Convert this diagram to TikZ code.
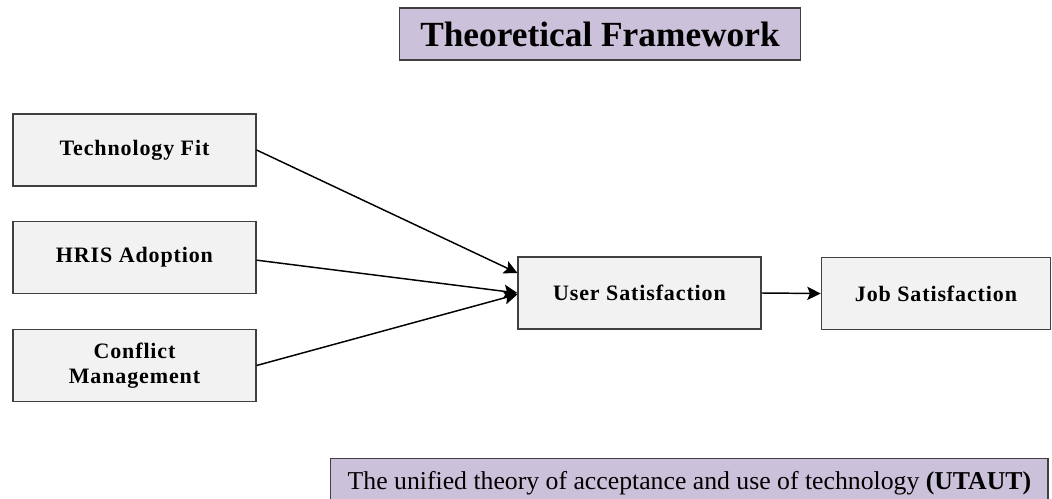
\documentclass[tikz,border=0pt]{standalone}
\usepackage{fontspec}
\setmainfont{Liberation Serif}
\usepackage{xcolor}
\usepackage{tikz}
\usetikzlibrary{arrows.meta}
\definecolor{lavender}{RGB}{204,193,218}
\definecolor{boxgray}{RGB}{242,242,242}
\definecolor{edgegray}{RGB}{64,64,64}

\tikzset{
    varbox/.style={draw=edgegray, line width=1.1pt, fill=boxgray, align=center,
        minimum width=182pt, minimum height=54pt, inner sep=2pt,
        font=\fontsize{16.5}{19}\selectfont\bfseries\addfontfeatures{LetterSpace=4}},
    titlebox/.style={draw=edgegray, line width=1.1pt, fill=lavender, inner sep=0pt}
}

\begin{document}
\begin{tikzpicture}[>={Stealth[length=10pt, width=10pt, inset=2pt]}, x=0.75pt, y=-0.75pt]
    \useasboundingbox (0,0) rectangle (1052,499);

    \node[titlebox, minimum width=301pt, minimum height=39pt,
        font=\fontsize{26.5}{30}\selectfont\bfseries] (title) at (600,34) {Theoretical Framework};

    \node[varbox] (techfit) at (134.5,150) {Technology Fit};
    \node[varbox] (hris) at (134.5,257.5) {HRIS Adoption};
    \node[varbox] (conflict) at (134.5,365.5) {Conflict\\Management};

    \node[varbox] (usersat) at (639.5,293) {User Satisfaction};
    \node[varbox, minimum width=172pt] (jobsat) at (936,293.5) {Job Satisfaction};

    \draw[->, line width=1.1pt] (techfit.east) -- ([yshift=15pt]usersat.west);
    \draw[->, line width=1.1pt] ([yshift=-2pt]hris.east) -- (usersat.west);
    \draw[->, line width=1.1pt] (conflict.east) -- ([yshift=-1pt]usersat.west);
    \draw[->, line width=1.1pt] (usersat.east) -- (jobsat.west);

    \node[titlebox, minimum width=538pt, minimum height=36pt, anchor=north west,
        font=\fontsize{19.3}{23}\selectfont] (utaut) at (330,458)
        {The unified theory of acceptance and use of technology \textbf{(UTAUT)}};
\end{tikzpicture}
\end{document}
